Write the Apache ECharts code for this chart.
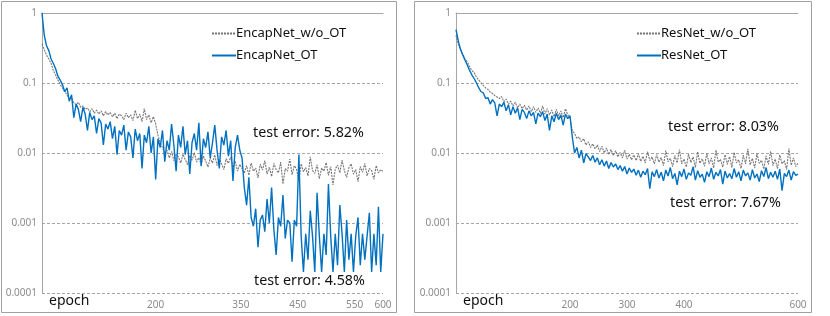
<!DOCTYPE html>
<html><head><meta charset="utf-8">
<script src="https://cdn.jsdelivr.net/npm/echarts@6/dist/echarts.min.js"></script>
<style>html,body{margin:0;padding:0;background:#fff}#c{width:830px;height:316px}</style>
</head><body><div id="c"></div>
<script>
// epochs sampled every 4
const epochs = [];
for (let e = 0; e <= 600; e += 4) epochs.push(e);

const leftTicks = [200, 350, 450, 550, 600];
const rightTicks = [200, 300, 400, 600];
const yTicks = ['0.0001', '0.001', '0.01', '0.1', '1'];

const encapWoOT = [
  0.36,0.30,0.25,0.22,0.19,0.15,0.13,0.11,0.095,0.085,
  0.075,0.068,0.058,0.062,0.052,0.049,0.053,0.045,0.047,0.042,
  0.044,0.039,0.043,0.037,0.041,0.036,0.040,0.034,0.039,0.035,
  0.038,0.033,0.037,0.031,0.036,0.034,0.030,0.037,0.032,0.035,
  0.029,0.041,0.031,0.036,0.028,0.043,0.030,0.035,0.027,0.033,
  0.026,0.018,0.014,0.012,0.0098,0.011,0.0085,0.0105,0.0078,0.0095,
  0.0088,0.0072,0.0096,0.0081,0.0068,0.0092,0.0079,0.0101,0.0074,0.0086,
  0.0069,0.0090,0.0077,0.0063,0.0085,0.0072,0.0094,0.0066,0.0081,0.0070,
  0.0058,0.0083,0.0071,0.0088,0.0062,0.0076,0.0055,0.0069,0.0060,0.0052,
  0.0066,0.0048,0.0072,0.0055,0.0061,0.0044,0.0069,0.0057,0.0078,0.0050,
  0.0063,0.0046,0.0071,0.0058,0.0052,0.0074,0.0036,0.0060,0.0055,0.0082,
  0.0049,0.0066,0.0058,0.0040,0.0070,0.0054,0.0062,0.0047,0.0088,0.0056,
  0.0051,0.0068,0.0043,0.0061,0.0055,0.0073,0.0048,0.0064,0.0035,0.0059,
  0.0067,0.0052,0.0079,0.0056,0.0045,0.0062,0.0070,0.0050,0.0058,0.0039,
  0.0064,0.0053,0.0071,0.0047,0.0060,0.0056,0.0042,0.0066,0.0052,0.0058,
  0.0054
];
const encapOT = [
  1.0,0.48,0.34,0.29,0.22,0.19,0.16,0.125,0.11,0.095,
  0.075,0.085,0.055,0.068,0.032,0.050,0.042,0.028,0.045,0.036,
  0.021,0.038,0.030,0.034,0.019,0.031,0.027,0.013,0.026,0.022,
  0.028,0.016,0.024,0.0095,0.021,0.018,0.025,0.011,0.020,0.017,
  0.0085,0.022,0.015,0.019,0.0060,0.018,0.014,0.024,0.010,0.017,
  0.0042,0.016,0.012,0.021,0.0075,0.015,0.011,0.026,0.013,0.0055,
  0.018,0.012,0.024,0.0095,0.015,0.0050,0.014,0.019,0.011,0.027,
  0.0065,0.016,0.012,0.020,0.0085,0.014,0.025,0.011,0.0060,0.017,
  0.013,0.021,0.0090,0.015,0.0040,0.012,0.018,0.011,0.0085,0.0032,
  0.0018,0.0045,0.0012,0.0009,0.0016,0.00045,0.0011,0.0013,0.00075,0.0022,
  0.0010,0.0032,0.0008,0.00035,0.0012,0.0009,0.0025,0.0006,0.0011,0.0010,
  0.00028,0.0011,0.0009,0.0095,0.00065,0.0002,0.0007,0.0003,0.0015,0.00065,
  0.0002,0.0027,0.00065,0.0002,0.0007,0.00035,0.0036,0.00065,0.0002,0.0007,
  0.00025,0.0018,0.0007,0.0002,0.0011,0.0003,0.0007,0.0002,0.00065,0.0012,
  0.00025,0.0007,0.0003,0.00065,0.0014,0.0002,0.0007,0.00025,0.0017,0.0002,
  0.0007
];
const resWoOT = [
  0.48,0.36,0.30,0.26,0.22,0.20,0.17,0.15,0.14,0.12,
  0.11,0.10,0.092,0.085,0.081,0.074,0.071,0.066,0.063,0.060,
  0.064,0.054,0.059,0.050,0.055,0.047,0.053,0.044,0.050,0.043,
  0.048,0.041,0.047,0.039,0.046,0.038,0.044,0.037,0.047,0.036,
  0.043,0.035,0.041,0.033,0.042,0.034,0.040,0.032,0.043,0.035,
  0.032,0.021,0.019,0.016,0.017,0.0145,0.016,0.013,0.0145,0.012,
  0.0135,0.0115,0.013,0.0105,0.0125,0.0100,0.0118,0.0095,0.0112,0.0092,
  0.0108,0.0088,0.0102,0.0085,0.0110,0.0082,0.0096,0.0080,0.0094,0.0078,
  0.0098,0.0076,0.0090,0.0072,0.0105,0.0078,0.0088,0.0070,0.0095,0.0074,
  0.0086,0.0066,0.0108,0.0075,0.0084,0.0064,0.0092,0.0072,0.0112,0.0070,
  0.0082,0.0063,0.0096,0.0073,0.0088,0.0062,0.0104,0.0071,0.0083,0.0065,
  0.0099,0.0070,0.0085,0.0061,0.0110,0.0074,0.0081,0.0063,0.0095,0.0069,
  0.0089,0.0062,0.0102,0.0072,0.0080,0.0060,0.0093,0.0070,0.0115,0.0068,
  0.0084,0.0061,0.0098,0.0071,0.0079,0.0059,0.0091,0.0069,0.0106,0.0066,
  0.0082,0.0060,0.0094,0.0070,0.0078,0.0058,0.0116,0.0067,0.0085,0.0064,
  0.0072
];
const resOT = [
  0.58,0.40,0.30,0.25,0.21,0.18,0.15,0.13,0.115,0.10,
  0.085,0.075,0.072,0.060,0.062,0.050,0.058,0.052,0.034,0.050,
  0.046,0.053,0.040,0.049,0.035,0.046,0.037,0.044,0.030,0.042,
  0.038,0.031,0.040,0.034,0.038,0.026,0.037,0.033,0.039,0.029,
  0.036,0.021,0.034,0.028,0.037,0.030,0.035,0.025,0.036,0.031,
  0.034,0.017,0.010,0.012,0.0085,0.011,0.0072,0.0098,0.0088,0.0078,
  0.0092,0.0074,0.0085,0.0068,0.0080,0.0065,0.0077,0.0060,0.0073,0.0063,
  0.0070,0.0058,0.0066,0.0055,0.0064,0.0050,0.0061,0.0053,0.0059,0.0048,
  0.0057,0.0045,0.0055,0.0049,0.0060,0.0031,0.0054,0.0046,0.0058,0.0044,
  0.0053,0.0040,0.0057,0.0047,0.0062,0.0043,0.0051,0.0035,0.0055,0.0046,
  0.0059,0.0042,0.0052,0.0048,0.0064,0.0041,0.0056,0.0045,0.0050,0.0038,
  0.0054,0.0046,0.0061,0.0042,0.0053,0.0047,0.0058,0.0036,0.0055,0.0044,
  0.0051,0.0043,0.0060,0.0045,0.0054,0.0040,0.0057,0.0047,0.0052,0.0041,
  0.0058,0.0044,0.0050,0.0039,0.0056,0.0046,0.0062,0.0043,0.0053,0.0045,
  0.0055,0.0042,0.0059,0.0029,0.0051,0.0046,0.0057,0.0041,0.0054,0.0048,
  0.0050
];

const FONT = 'Noto Sans';
const GRID_C = '#a6a6a6';
const BLUE = '#0070c0';
const GRAY = '#767676';

function xAxisFor(gi, ticks) {
  return {
    type: 'value', gridIndex: gi, min: 0, max: 600,
    axisLine: { show: false }, axisTick: { show: false }, splitLine: { show: false },
    axisLabel: {
      customValues: ticks, showMinLabel: true, showMaxLabel: true,
      color: '#8c8c8c', fontSize: 10, fontFamily: FONT, margin: 7
    }
  };
}
function topAxisFor(gi) {
  return {
    type: 'value', gridIndex: gi, position: 'top', min: 0, max: 600,
    axisLine: { show: true, lineStyle: { color: GRID_C, width: 1 } },
    axisTick: { show: false }, axisLabel: { show: false }, splitLine: { show: false }
  };
}
function yAxisFor(gi) {
  return {
    type: 'log', logBase: 10, gridIndex: gi, min: 0.0001, max: 1,
    axisLine: { show: true, lineStyle: { color: GRID_C, width: 1 } },
    axisTick: { show: false },
    splitLine: { show: true, lineStyle: { color: GRID_C, type: [3, 2], width: 1 } },
    axisLabel: {
      color: '#8c8c8c', fontSize: 10, fontFamily: FONT, margin: 5,
      formatter: v => { const k = Math.round(Math.log10(v)) + 4; return yTicks[k] ?? ''; }
    }
  };
}
const pairs = arr => epochs.map((e, i) => [e, arr[i]]);
function grayLine(name, xi, yi, data) {
  return { name, type: 'line', xAxisIndex: xi, yAxisIndex: yi, data: pairs(data), symbol: 'none',
    lineStyle: { color: GRAY, width: 1.1, type: [2, 1] }, itemStyle: { color: GRAY }, animation: false, z: 2 };
}
function blueLine(name, xi, yi, data) {
  return { name, type: 'line', xAxisIndex: xi, yAxisIndex: yi, data: pairs(data), symbol: 'none',
    lineStyle: { color: BLUE, width: 1.4 }, itemStyle: { color: BLUE }, animation: false, z: 3 };
}
function legendFor(left, names) {
  return { data: names, orient: 'vertical', left, top: 22, itemWidth: 24, itemHeight: 10, itemGap: 9,
    itemStyle: { opacity: 0 },
    textStyle: { fontSize: 13, fontFamily: FONT, color: '#111', padding: [0,0,0,-5] }, selectedMode: false };
}
function txt(x, y, s) {
  return { type: 'text', left: x, top: y, style: { text: s, fontSize: 14.3, fontFamily: FONT, fill: '#111' } };
}

const chart = echarts.init(document.getElementById('c'), null, { renderer: 'canvas' });
chart.setOption({
  animation: false,
  grid: [
    { left: 42, right: 447, top: 13, bottom: 23 },
    { left: 456, right: 32, top: 13, bottom: 23 }
  ],
  xAxis: [xAxisFor(0, leftTicks), xAxisFor(1, rightTicks), topAxisFor(0), topAxisFor(1)],
  yAxis: [yAxisFor(0), yAxisFor(1)],
  legend: [
    legendFor(206, ['EncapNet_w/o_OT', 'EncapNet_OT']),
    legendFor(631, ['ResNet_w/o_OT', 'ResNet_OT'])
  ],
  series: [
    grayLine('EncapNet_w/o_OT', 0, 0, encapWoOT),
    blueLine('EncapNet_OT', 0, 0, encapOT),
    grayLine('ResNet_w/o_OT', 1, 1, resWoOT),
    blueLine('ResNet_OT', 1, 1, resOT)
  ],
  graphic: [
    { type: 'rect', shape: { x: 1.5, y: 1.5, width: 395, height: 311 }, style: { fill: 'none', stroke: '#a0a0a0', lineWidth: 1 } },
    { type: 'rect', shape: { x: 414.5, y: 1.5, width: 397, height: 311 }, style: { fill: 'none', stroke: '#a0a0a0', lineWidth: 1 } },
    { type: 'text', left: 49, top: 294, style: { text: 'epoch', fontSize: 14, fontFamily: FONT, fill: '#111' } },
    { type: 'text', left: 463, top: 294, style: { text: 'epoch', fontSize: 14, fontFamily: FONT, fill: '#111' } },
    txt(253, 126, 'test error: 5.82%'),
    txt(254, 274, 'test error: 4.58%'),
    txt(668, 120, 'test error: 8.03%'),
    txt(670, 196, 'test error: 7.67%')
  ]
});
</script></body></html>
